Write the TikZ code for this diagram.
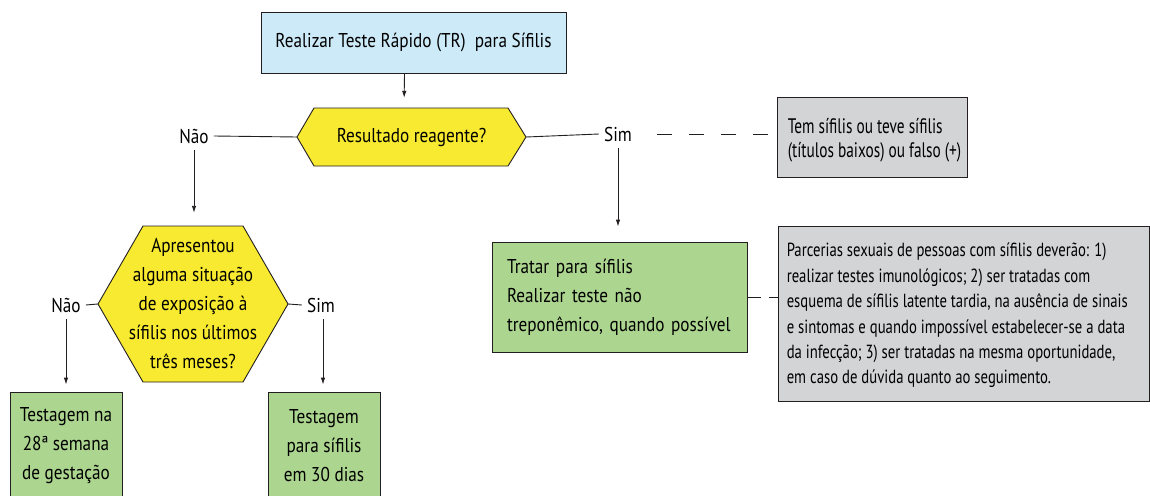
\documentclass[tikz,border=0pt]{standalone}
\usepackage{fontspec}
\setmainfont[FakeStretch=0.86]{PT Sans}
\newfontfamily\grayonefont[FakeStretch=0.73]{PT Sans}
\newfontfamily\graytwofont[FakeStretch=0.775]{PT Sans}
\usetikzlibrary{arrows.meta}
\definecolor{bluefill}{RGB}{205,234,248}
\definecolor{yellowfill}{RGB}{247,234,48}
\definecolor{greenfill}{RGB}{172,214,143}
\definecolor{grayfill}{RGB}{211,212,214}
\definecolor{linec}{RGB}{35,31,32}
\begin{document}
\begin{tikzpicture}[x=1pt,y=-1pt,
  font=\fontsize{20}{29}\selectfont,
  frame/.style={draw=linec, line width=0.9pt},
  conn/.style={draw=linec, line width=0.9pt},
  arr/.style={conn, -{Latex[length=7pt,width=4.5pt]}},
  lbl/.style={inner xsep=5pt, inner ysep=7pt},
  hexa/.style={frame, fill=yellowfill},
  leftbox/.style={frame, align=left, inner xsep=12pt, inner ysep=0pt},
  centbox/.style={frame, align=center, inner sep=0pt},
  plaintext/.style={anchor=west, align=left, inner sep=0pt}]
\useasboundingbox (0,0) rectangle (1150,495);
% top box
\node[centbox, fill=bluefill, minimum width=305pt, minimum height=61pt] (tr) at (413.5,42.5) {Realizar Teste Rápido (TR)\ \ para Sífilis};
% hexagon 1
\filldraw[hexa] (297,137) -- (314,108) -- (508,108) -- (526,137) -- (508,166) -- (314,166) -- cycle;
\node[minimum width=229pt, minimum height=58pt, inner sep=0pt] (q1) at (411.5,137) {Resultado reagente?};
\draw[arr, shorten >=10pt] ([xshift=-9pt]tr.south) -- ([xshift=-7.5pt]q1.north);
% labels of q1
\node[lbl] (nao1) at (194,136) {Não};
\node[lbl] (sim1) at (618,134) {Sim};
\draw[conn] (q1.west) -- (nao1.east);
\draw[conn] (q1.east) -- (sim1.west);
% gray box 1
\node[frame, fill=grayfill, minimum width=190pt, minimum height=80pt, inner sep=0pt] (g1) at (872,137) {};
\node[plaintext, font=\grayonefont\fontsize{21}{24}\selectfont] (g1t) at ([xshift=11pt, yshift=-3.5pt]g1.west) {Tem sífilis ou teve sífilis\\(títulos baixos) ou falso (+)};
\draw[conn, dash pattern=on 15pt off 17pt, shorten <=20pt] (sim1.east) -- (sim1.east -| g1.west);
% hexagon 2
\filldraw[hexa] (98,304) -- (143,226) -- (243,226) -- (288,304) -- (243,382) -- (143,382) -- cycle;
\node[minimum width=190pt, minimum height=156pt, inner sep=0pt, align=center] (q2) at (193,304) {Apresentou\\alguma situação\\de exposição à\\sífilis nos últimos\\três meses?};
\draw[arr, shorten >=13pt] (nao1.south) -- (nao1.south |- q2.north);
\node[lbl] (nao2) at (66,305) {Não};
\node[lbl] (sim2) at (321,305) {Sim};
\draw[conn] (q2.west) -- (nao2.east);
\draw[conn] (q2.east) -- (sim2.west);
% bottom boxes
\node[centbox, fill=greenfill, minimum width=112pt, minimum height=108pt] (t1) at (66,446) {Testagem na\\28ª semana\\de gestação};
\node[centbox, fill=greenfill, minimum width=112pt, minimum height=108pt] (t2) at (324,446) {Testagem\\para sífilis\\em 30 dias};
\draw[arr, shorten >=7pt] (nao2.south) -- (nao2.south |- t1.north);
\draw[arr, shorten >=7pt] ([xshift=2pt]sim2.south) -- ([xshift=2pt]sim2.south |- t2.north);
% right side
\node[leftbox, fill=greenfill, inner xsep=15pt, text width=225pt, minimum height=110pt] (tt) at (619.5,297) {Tratar para sífilis\\Realizar teste não\\treponêmico, quando possível};
\draw[arr, shorten >=15pt] (sim1.south) -- (sim1.south |- tt.north);
\node[frame, fill=grayfill, minimum width=371pt, minimum height=175pt, inner sep=0pt] (g2) at (963.5,313.5) {};
\node[plaintext, font=\graytwofont\fontsize{19}{25.4}\selectfont] (g2t) at ([xshift=9pt, yshift=-2pt]g2.west) {Parcerias sexuais de pessoas com sífilis deverão: 1)\\realizar testes imunológicos; 2) ser tratadas com\\esquema de sífilis latente tardia, na ausência de sinais\\e sintomas e quando impossível estabelecer-se a data\\da infecção; 3) ser tratadas na mesma oportunidade,\\em caso de dúvida quanto ao seguimento.};
\draw[conn, dash pattern=on 13pt off 8pt, shorten <=1pt] (tt.east) -- (tt.east -| g2.west);
\end{tikzpicture}
\end{document}
